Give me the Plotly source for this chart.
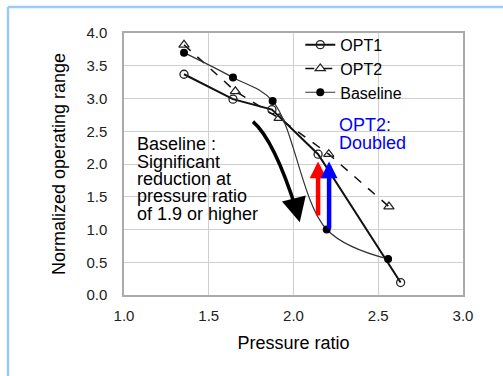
import plotly.graph_objects as go

# ---- data ----
opt1_x = [1.354, 1.643, 1.873, 2.145, 2.632]
opt1_y = [3.37, 2.99, 2.83, 2.15, 0.19]

opt2_x = [1.354, 1.657, 1.915, 2.208, 2.563]
opt2_y = [3.82, 3.11, 2.70, 2.15, 1.35]

base_x = [1.354, 1.643, 1.877, 2.196, 2.558]
base_y = [3.70, 3.32, 2.96, 1.00, 0.55]

x_ticks = [1.0, 1.5, 2.0, 2.5, 3.0]
y_ticks = [0.0, 0.5, 1.0, 1.5, 2.0, 2.5, 3.0, 3.5, 4.0]

note_lines = ["Baseline :", "Significant", "reduction at", "pressure ratio", "of 1.9 or higher"]
opt2_lines = ["OPT2:", "Doubled"]

FONT = "Liberation Sans, Arial, sans-serif"

fig = go.Figure()
fig.add_trace(go.Scatter(
    x=opt1_x, y=opt1_y, name="OPT1", mode="lines+markers",
    line=dict(color="#111111", width=2),
    marker=dict(symbol="circle-open", size=8, color="#222222", line=dict(width=1.3))))
fig.add_trace(go.Scatter(
    x=opt2_x, y=opt2_y, name="OPT2", mode="lines+markers",
    line=dict(color="#111111", width=1.5, dash="dash"),
    marker=dict(symbol="triangle-up-open", size=9, color="#222222", line=dict(width=1.2))))
fig.add_trace(go.Scatter(
    x=base_x, y=base_y, name="Baseline", mode="lines+markers",
    line=dict(color="#333333", width=1.2, shape="spline", smoothing=1.0),
    marker=dict(symbol="circle", size=8, color="#000000")))

W, H = 503, 376
ml, mr, mt, mb = 124, 40, 33, 81
pw, ph = W - ml - mr, H - mt - mb

def px2paper(px, py):
    return (px - ml) / pw, (H - mb - py) / ph

shapes = []
# light-blue frame (top and left)
x0, y0 = px2paper(8, 7)
x1, _ = px2paper(W + 5, 7)
_, y1 = px2paper(8, H + 5)
shapes.append(dict(type="line", xref="paper", yref="paper", x0=x0, y0=y0, x1=x1, y1=y0,
                   line=dict(color="#9ccbf7", width=2.5)))
shapes.append(dict(type="line", xref="paper", yref="paper", x0=x0, y0=y0, x1=x0, y1=y1,
                   line=dict(color="#9ccbf7", width=2.5)))
# curved black arrow shaft
shapes.append(dict(type="path", xref="x", yref="y",
                   path="M 1.761,2.647 Q 1.885,2.369 2.017,1.30",
                   line=dict(color="#000000", width=3.5)))

annotations = []
# black arrow head
annotations.append(dict(x=2.037, y=1.11, ax=2.015, ay=1.34, xref="x", yref="y", axref="x", ayref="y",
                        showarrow=True, arrowhead=2, arrowsize=1.4, arrowwidth=3.5, arrowcolor="#000000", text=""))
# red arrow
annotations.append(dict(x=2.145, y=2.04, ax=2.145, ay=1.19, xref="x", yref="y", axref="x", ayref="y",
                        showarrow=True, arrowhead=2, arrowsize=0.75, arrowwidth=4.5, arrowcolor="#ff0000", text=""))
# blue arrow
annotations.append(dict(x=2.21, y=2.04, ax=2.21, ay=0.99, xref="x", yref="y", axref="x", ayref="y",
                        showarrow=True, arrowhead=2, arrowsize=0.75, arrowwidth=4.5, arrowcolor="#0000ff", text=""))

# note text lines
for i, t in enumerate(note_lines):
    py = 144.3 + 17.3 * i
    annotations.append(dict(x=1 + (135 - 124.3) / 169.5, y=(294.7 - py) / 65.35, xref="x", yref="y",
                            text=t, showarrow=False, xanchor="left", yanchor="middle",
                            font=dict(family=FONT, size=18, color="#000000")))
for i, t in enumerate(opt2_lines):
    py = 125 + 17.8 * i
    annotations.append(dict(x=1 + (337.5 - 124.3) / 169.5, y=(294.7 - py) / 65.35, xref="x", yref="y",
                            text=t, showarrow=False, xanchor="left", yanchor="middle",
                            font=dict(family=FONT, size=18, color="#0000ff")))

axis_common = dict(showgrid=True, gridcolor="#cfcfcf", gridwidth=1.2, zeroline=False,
                   showline=True, linecolor="#aaaaaa", linewidth=1.5, mirror=True,
                   ticks="", tickfont=dict(family=FONT, size=15, color="#222222"))

fig.update_layout(
    width=W, height=H,
    margin=dict(l=ml, r=mr, t=mt, b=mb),
    paper_bgcolor="white", plot_bgcolor="white",
    font=dict(family=FONT, color="#000000"),
    shapes=shapes, annotations=annotations,
    showlegend=True,
    legend=dict(x=0.52, y=1.02, xanchor="left", yanchor="top", bgcolor="rgba(255,255,255,0)",
                font=dict(family=FONT, size=16, color="#000000"),
                itemwidth=30, tracegroupgap=0),
    xaxis=dict(range=[1.0, 3.0], tickvals=x_ticks, ticktext=[f"{v:.1f}" for v in x_ticks],
               ticklabelstandoff=6,
               title=dict(text="Pressure ratio", font=dict(family=FONT, size=18), standoff=14),
               **axis_common),
    yaxis=dict(range=[0.0, 4.0], tickvals=y_ticks, ticktext=[f"{v:.1f}" for v in y_ticks],
               ticklabelstandoff=12,
               title=dict(text="Normalized operating range", font=dict(family=FONT, size=18), standoff=16),
               **axis_common),
)

fig.write_html("out.html")
